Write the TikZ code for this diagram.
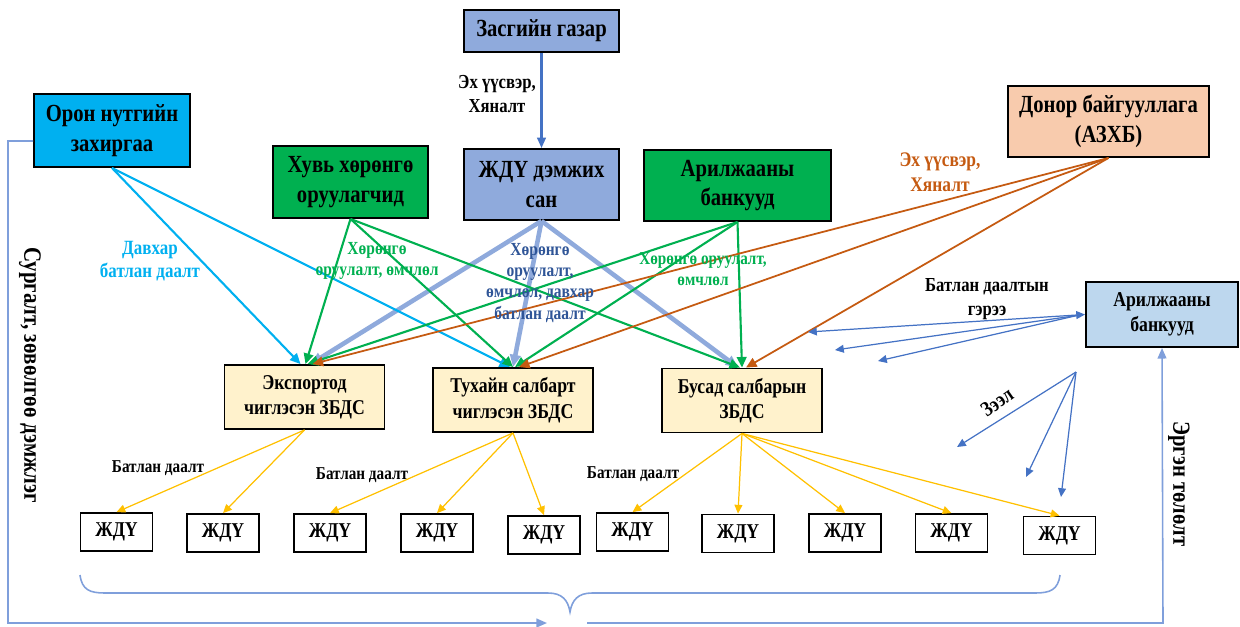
\documentclass[tikz,border=0pt]{standalone}
\usepackage{fontspec}
\setmainfont[FakeStretch=0.84]{Liberation Serif}
\usetikzlibrary{arrows.meta,calc}

\definecolor{govfill}{HTML}{8FAADC}
\definecolor{grnfill}{HTML}{00B050}
\definecolor{cyanfill}{HTML}{00B0F0}
\definecolor{donorfill}{HTML}{F8CBAD}
\definecolor{bankfill}{HTML}{BDD7EE}
\definecolor{midfill}{HTML}{FFF2CC}
\definecolor{cyanln}{HTML}{00B0F0}
\definecolor{grnln}{HTML}{00B050}
\definecolor{orgln}{HTML}{C55A11}
\definecolor{fundln}{HTML}{8FAADC}
\definecolor{blueln}{HTML}{4472C4}
\definecolor{yelln}{HTML}{FFC000}
\definecolor{fbln}{HTML}{7F9FDB}
\definecolor{bluetxt}{HTML}{2F5597}

\begin{document}
\begin{tikzpicture}[x=0.02cm, y=-0.02cm,
  box/.style={draw=black, line width=1.1pt, inner sep=0pt, align=center,
    font=\fontsize{14}{17}\selectfont\bfseries},
  midbox/.style={box, fill=midfill, minimum width=3.2cm, minimum height=1.28cm,
    font=\fontsize{12}{14.5}\selectfont\bfseries},
  jdu/.style={draw=black, line width=1pt, inner sep=0pt, fill=white,
    minimum width=1.44cm, minimum height=0.76cm,
    font=\fontsize{12}{14}\selectfont\bfseries},
  lbl/.style={inner sep=0pt, align=center},
  fat/.style={line width=1.2pt, -{Triangle[length=6pt, width=5.5pt]}},
  thick fund/.style={draw=fundln, line width=2.6pt, -{Triangle[length=7pt, width=6pt]}},
  thin/.style={line width=0.7pt, -{Triangle[length=5pt, width=4.5pt]}},
  fb/.style={draw=fbln, line width=0.9pt}
]
\useasboundingbox (0,0) rectangle (1240,626);

% ---- upper level organisations ----
\node[box, fill=govfill, minimum width=3.1cm, minimum height=0.84cm] (gov) at (541.5,31) {Засгийн газар};
\node[box, fill=govfill, minimum width=3.1cm, minimum height=1.42cm] (fund) at (541.5,184.5) {ЖДҮ дэмжих\\сан};
\node[box, fill=grnfill, minimum width=3.74cm, minimum height=1.42cm] (bankG) at (737.5,185.5) {Арилжааны\\банкууд};
\node[box, fill=grnfill, minimum width=3.1cm, minimum height=1.44cm] (priv) at (350.5,182) {Хувь хөрөнгө\\оруулагчид};
\node[box, fill=cyanfill, minimum width=3.12cm, minimum height=1.46cm] (local) at (112,130.5) {Орон нутгийн\\захиргаа};
\node[box, fill=donorfill, minimum width=4.02cm, minimum height=1.42cm] (donor) at (1108.5,121.5) {Донор байгууллага\\(АЗХБ)};
\node[box, fill=bankfill, minimum width=3.04cm, minimum height=1.3cm,
  font=\fontsize{12}{14.2}\selectfont\bfseries] (bankR) at (1162,314.5) {Арилжааны\\банкууд};

% ---- guarantee funds ----
\node[midbox] (exp) at (304.5,397) {Экспортод\\чиглэсэн ЗБДС};
\node[midbox] (spec) at (513,400) {Тухайн салбарт\\чиглэсэн ЗБДС};
\node[midbox] (other) at (742,400.5) {Бусад салбарын\\ЗБДС};

% ---- enterprises ----
\node[jdu] (j1) at (116.5,532) {ЖДҮ};
\node[jdu] (j2) at (223,533) {ЖДҮ};
\node[jdu] (j3) at (330,533) {ЖДҮ};
\node[jdu] (j4) at (437,533) {ЖДҮ};
\node[jdu] (j5) at (544,535) {ЖДҮ};
\node[jdu] (j6) at (632.5,532) {ЖДҮ};
\node[jdu] (j7) at (738,533.5) {ЖДҮ};
\node[jdu] (j8) at (845,533) {ЖДҮ};
\node[jdu] (j9) at (951.5,533) {ЖДҮ};
\node[jdu] (j10) at (1059.5,535.5) {ЖДҮ};

% ---- funding links ----
\draw[blueln, line width=1.2pt, -{Triangle[length=6pt, width=5pt]}] (gov.south) -- (fund.north);

\draw[thick fund] (fund.south) -- ($(exp.north)+(6,0)$);
\draw[thick fund] (fund.south) -- ($(spec.north)+(0,0)$);
\draw[thick fund] (fund.south) -- ($(other.north)+(-4,0)$);

\draw[cyanln, fat] (local.south) -- ($(exp.north)+(-4,0)$);
\draw[cyanln, fat] (local.south) -- ($(spec.north)+(-3,0)$);

\draw[grnln, fat] (priv.south) -- ($(exp.north)+(1,0)$);
\draw[grnln, fat] (priv.south) -- ($(spec.north)+(0,0)$);
\draw[grnln, fat] (priv.south) -- ($(other.north)+(-2,0)$);

\draw[grnln, fat] (bankG.south) -- ($(exp.north)+(3,0)$);
\draw[grnln, fat] (bankG.south) -- ($(spec.north)+(2,0)$);
\draw[grnln, fat] (bankG.south) -- ($(other.north)+(0,0)$);

\draw[orgln, line width=1pt, -{Triangle[length=6pt, width=5.5pt]}] (donor.south) -- ($(exp.north)+(8,0)$);
\draw[orgln, line width=1pt, -{Triangle[length=6pt, width=5.5pt]}] (donor.south) -- ($(spec.north)+(6,0)$);
\draw[orgln, line width=1pt, -{Triangle[length=6pt, width=5.5pt]}] (donor.south) -- ($(other.north)+(4,0)$);

% ---- guarantees to enterprises ----
\foreach \j in {j1,j2} \draw[yelln, thin] (exp.south) -- (\j.north);
\foreach \j in {j3,j4,j5} \draw[yelln, thin] (spec.south) -- (\j.north);
\foreach \j in {j6,j7,j8,j9,j10} \draw[yelln, thin] (other.south) -- (\j.north);

% ---- guarantee contracts and loans from the banks ----
\coordinate (g1) at (808,332);
\coordinate (g2) at (835,350);
\coordinate (g3) at (878,361);
\coordinate (bkin) at ($(bankR.west)+(-8,1)$);
\draw[blueln, thin, {Triangle[length=5pt, width=4.5pt]}-{Triangle[length=5pt, width=4.5pt]}] (g1) -- (bankR.west);
\draw[blueln, thin] (bkin) -- (g2);
\draw[blueln, thin] (bkin) -- (g3);

\coordinate (loan) at (1076,372);
\coordinate (l1) at (957,447);
\coordinate (l2) at (1026,477);
\coordinate (l3) at (1061,497);
\foreach \l in {l1,l2,l3} \draw[blueln, thin] (loan) -- (\l);

% ---- training loop and repayment loop ----
\coordinate (tl) at (8,141);
\coordinate (tb) at (8,623);
\coordinate (tm) at (547,623);
\coordinate (rm) at (587,623);
\coordinate (rb) at (1163,623);
\draw[fb, -{Triangle[length=6pt, width=5pt]}] ([yshift=-0.21cm]local.west) -- (tl) -- (tb) -- (tm);
\draw[fb, -{Triangle[length=6pt, width=5pt]}] (rm) -- (rb) -- (bankR.south);

% curly brace under the enterprises
\draw[fb] (80,575) .. controls (82,590) and (90,593) .. (105,593)
  -- (548,593) .. controls (562,593) and (568,600) .. (570,612)
  .. controls (572,600) and (578,593) .. (592,593)
  -- (1035,593) .. controls (1050,593) and (1058,590) .. (1060,575);

% ---- labels ----
\node[lbl, font=\fontsize{11.3}{14}\selectfont\bfseries] (tGov) at (497,94) {Эх үүсвэр,\\Хяналт};
\node[lbl, text=cyanln, font=\fontsize{11.5}{13}\selectfont\bfseries] (tLocal) at (150,261) {Давхар\\батлан даалт};
\node[lbl, text=grnln, font=\fontsize{10.5}{11.5}\selectfont\bfseries] (tPriv) at (377,261) {Хөрөнгө\\оруулалт, өмчлөл};
\node[lbl, text=bluetxt, font=\fontsize{10.5}{12}\selectfont\bfseries] (tFund) at (540,283) {Хөрөнгө\\оруулалт,\\өмчлөл, давхар\\батлан даалт};
\node[lbl, text=grnln, font=\fontsize{10.3}{12}\selectfont\bfseries] (tBank) at (703,269.5) {Хөрөнгө оруулалт,\\өмчлөл};
\node[lbl, text=orgln, font=\fontsize{11.8}{14}\selectfont\bfseries] (tDonor) at (940,172.5) {Эх үүсвэр,\\Хяналт};
\node[lbl, font=\fontsize{11.3}{13.6}\selectfont\bfseries] (tGuar) at (987,299) {Батлан даалтын\\гэрээ};
\node[lbl, rotate=35, font=\fontsize{12}{13}\selectfont\bfseries] (tLoan) at (997,402) {Зээл};
\node[lbl, font=\fontsize{10.3}{11}\selectfont\bfseries] (tB1) at (158,468) {Батлан даалт};
\node[lbl, font=\fontsize{10.3}{11}\selectfont\bfseries] (tB2) at (362,475) {Батлан даалт};
\node[lbl, font=\fontsize{10.3}{11}\selectfont\bfseries] (tB3) at (633,474) {Батлан даалт};
\node[lbl, rotate=-90, font=\fontsize{14.2}{15}\selectfont\bfseries] (tTrain) at (30,375) {Сургалт, зөвөлгөө дэмжлэг};
\node[lbl, rotate=-90, font=\fontsize{14}{15}\selectfont\bfseries] (tRepay) at (1179,484) {Эргэн төлөлт};
\end{tikzpicture}
\end{document}
